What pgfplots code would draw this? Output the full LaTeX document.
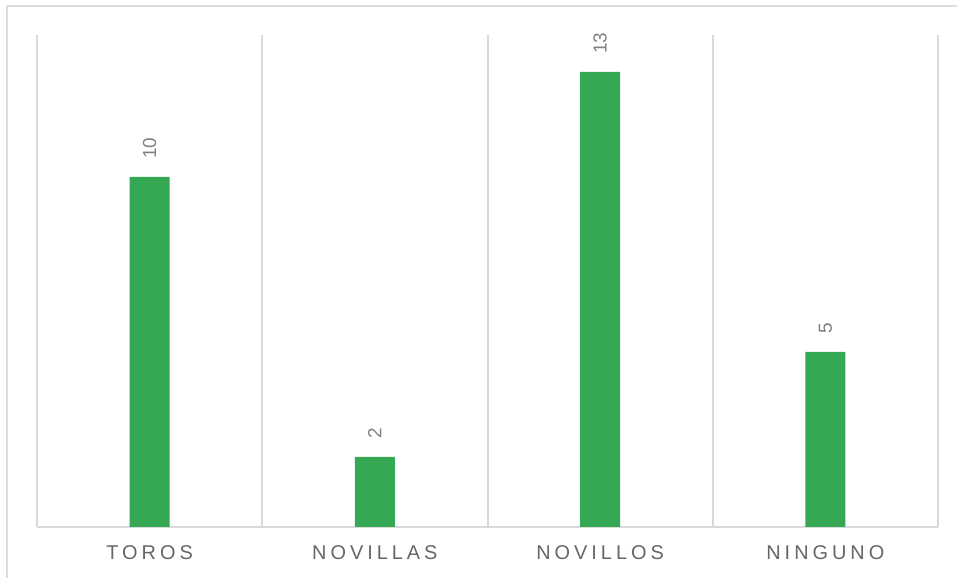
\documentclass[border=0pt]{standalone}
\usepackage{pgfplots}
\pgfplotsset{compat=1.18}
\usepackage{fontspec}
\setmainfont{Liberation Sans}
\newfontfamily\spacedfont[LetterSpace=20]{Liberation Sans}
\definecolor{bargreen}{HTML}{34A853}
\definecolor{gridgray}{HTML}{D9D9D9}
\definecolor{framegray}{HTML}{DDDDDD}
\definecolor{labgray}{HTML}{666666}
\definecolor{numgray}{HTML}{808080}
\begin{document}
\begin{tikzpicture}[x=1bp,y=1bp]
\path[use as bounding box] (0,0) rectangle (957,578);
\draw[framegray, line width=2.5bp] (7,0) -- (7,572) -- (957,572);
\begin{axis}[
  at={(37bp,51bp)}, anchor=south west,
  width=901bp, height=492bp, scale only axis,
  xmin=-0.5, xmax=3.5, ymin=0, ymax=14.057,
  axis x line*=bottom, axis y line=none,
  x axis line style={gridgray, line width=2bp, -},
  xtick={0,1,2,3},
  xticklabels={TOROS,NOVILLAS,NOVILLOS,NINGUNO},
  major tick length=0pt, minor tick length=0pt,
  minor xtick={-0.5,0.5,1.5,2.5,3.5},
  xminorgrids,
  minor grid style={gridgray, line width=2bp},
  ytick=\empty,
  /pgf/number format/assume math mode=true,
  xticklabel style={font=\spacedfont\fontsize{20}{20}\selectfont, text=labgray, inner sep=0pt, yshift=-18bp},
  ybar, bar width=40bp,
  nodes near coords,
  every node near coord/.append style={rotate=90, anchor=west, font=\fontsize{19}{19}\selectfont, text=numgray, inner xsep=18bp, inner ysep=0pt},
  clip=false,
]
\addplot[fill=bargreen, draw=none] coordinates {(0,10) (1,2) (2,13) (3,5)};
\end{axis}
\end{tikzpicture}
\end{document}
